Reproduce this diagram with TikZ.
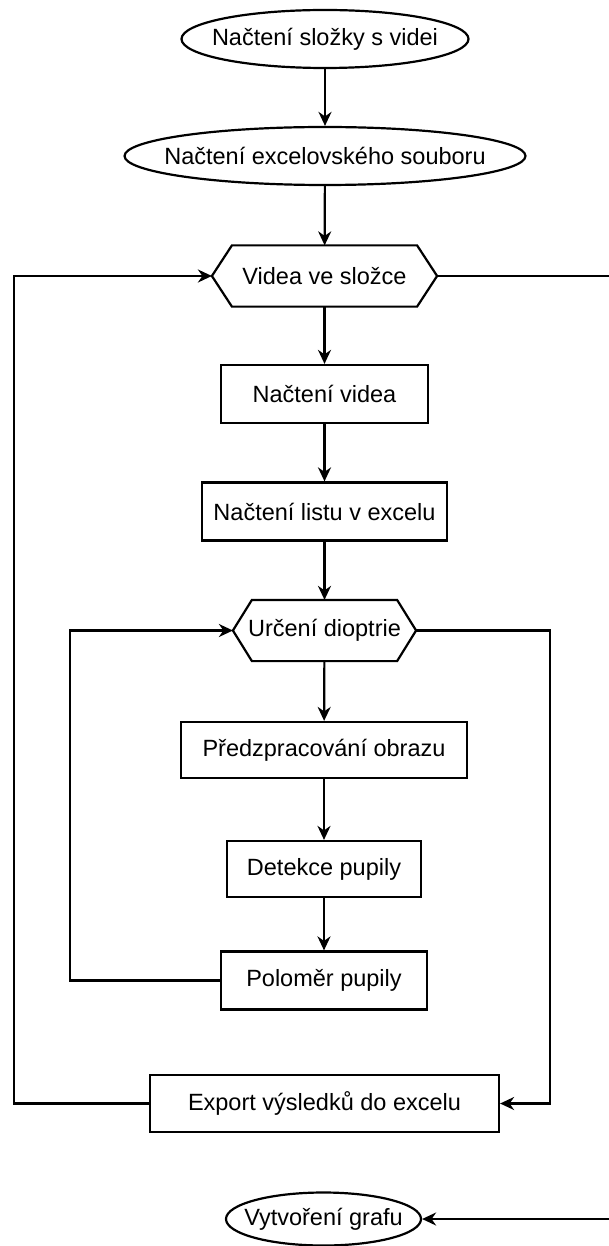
\documentclass[tikz,border=0pt]{standalone}
\usepackage{fontspec}
\setmainfont{Liberation Sans}
\usetikzlibrary{shapes.geometric,arrows.meta}
\newcommand{\fixw}[1]{\makebox[0pt]{#1}}
\begin{document}
\begin{tikzpicture}[x=1pt,y=-1pt,line width=2.2pt,line join=miter,
  font=\fontsize{23.5}{27}\selectfont,
  term/.style={ellipse,draw,inner sep=0pt,minimum height=58},
  proc/.style={rectangle,draw,inner sep=0pt,minimum height=58},
  hexa/.style={rectangle,inner sep=0pt,minimum height=59},
  arr/.style={-{Stealth[length=14pt,width=13pt,inset=4.5pt]}}]
\useasboundingbox (0,0) rectangle (609,1246);
\clip (0,0) rectangle (609,1246);
\node[term,minimum width=287] (e1) at (325,39) {\fixw{Načtení složky s videi}};
\node[term,minimum width=401] (e2) at (325,156) {\fixw{Načtení excelovského souboru}};
\node[hexa,minimum width=223] (h1) at (324.5,276) {Videa ve složce};
\draw ([xshift=20]h1.north west) -- ([xshift=-20]h1.north east) -- (h1.east)
  -- ([xshift=-20]h1.south east) -- ([xshift=20]h1.south west) -- (h1.west) -- cycle;
\node[proc,minimum width=207] (b1) at (324.5,394) {Načtení videa};
\node[proc,minimum width=245] (b2) at (324.5,511.5) {Načtení listu v excelu};
\node[hexa,minimum width=181] (h2) at (324.5,630.5) {\fixw{Určení dioptrie}};
\draw ([xshift=19]h2.north west) -- ([xshift=-19]h2.north east) -- (h2.east)
  -- ([xshift=-19]h2.south east) -- ([xshift=19]h2.south west) -- (h2.west) -- cycle;
\node[proc,minimum width=286,minimum height=56] (b3) at (324,750) {Předzpracování obrazu};
\node[proc,minimum width=194,minimum height=56] (b4) at (324,869) {Detekce pupily};
\node[proc,minimum width=206] (b5) at (324,980.5) {Poloměr pupily};
\node[proc,minimum width=349,minimum height=57] (b6) at (324.5,1103.5) {Export výsledků do excelu};
\node[term,minimum width=195,minimum height=53] (e3) at (323.5,1219) {\fixw{Vytvoření grafu}};
\coordinate (L1) at (14,276);
\coordinate (L2) at (70,630.5);
\coordinate (R2) at (550,630.5);
\coordinate (R1) at (613,276);
\draw[arr] (e1) -- (e2);
\draw[arr] (e2) -- (h1);
\draw[arr] (h1) -- (b1);
\draw[arr] (b1) -- (b2);
\draw[arr] (b2) -- (h2);
\draw[arr] (h2) -- (b3);
\draw[arr] (b3) -- (b4);
\draw[arr] (b4) -- (b5);
\draw[arr] (b6.west) -| (L1) -- (h1.west);
\draw[arr] (b5.west) -| (L2) -- (h2.west);
\draw[arr] (h2.east) -- (R2) |- (b6.east);
\draw[arr] (h1.east) -- (R1) |- (e3.east);
\end{tikzpicture}
\end{document}
